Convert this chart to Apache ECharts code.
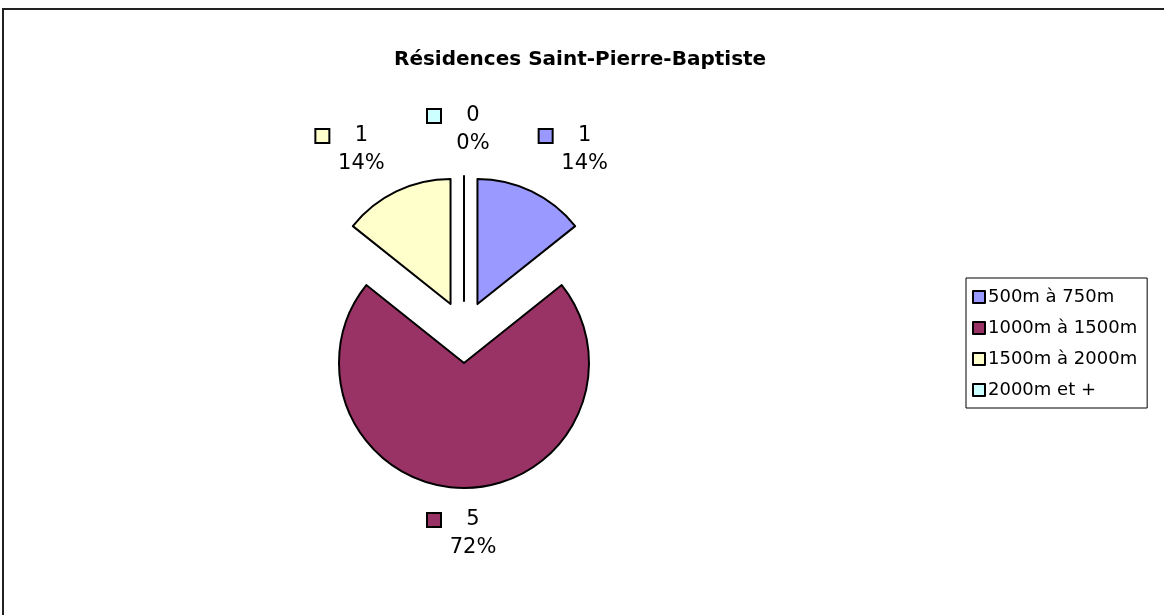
<!DOCTYPE html>
<html>
<head>
<meta charset="utf-8">
<script src="https://cdn.jsdelivr.net/npm/echarts@6/dist/echarts.min.js"></script>
<style>
    html, body { margin: 0; padding: 0; background: #fff; }
    #chart { width: 1164px; height: 615px; }
</style>
</head>
<body>
<div id="chart"></div>
<script>
// data
const chartTitle = 'Résidences Saint-Pierre-Baptiste';
const categories = ['500m à 750m', '1000m à 1500m', '1500m à 2000m', '2000m et +'];
const counts = [1, 5, 1, 0];
const sliceColors = ['#9999FF', '#993366', '#FFFFCC', '#CCFFFF'];

const FONT = '"DejaVu Sans", Arial, sans-serif';
const pieCenter = [464, 332];
const pieRadius = 125;

const total = counts.reduce((a, b) => a + b, 0);

// mid angle of each slice, clockwise from 12 o'clock
function midAngle(idx) {
    let before = 0;
    for (let i = 0; i < idx; i++) before += counts[i];
    return (before + counts[idx] / 2) / total * Math.PI * 2;
}

let rich = {
    gap: { width: 6 },
    pad: { width: 18 },
    val: { width: 54, align: 'center', fontSize: 21, lineHeight: 28, fontFamily: FONT, color: '#000' },
    pct: { width: 54, align: 'center', fontSize: 21, lineHeight: 28, fontFamily: FONT, color: '#000' }
};
sliceColors.forEach((c, i) => {
    rich['sq' + i] = { width: 12, height: 12, backgroundColor: c, borderColor: '#000', borderWidth: 2, align: 'left' };
});

const myChart = echarts.init(document.getElementById('chart'));

myChart.setOption({
    backgroundColor: '#fff',
    animation: false,
    title: {
        text: chartTitle,
        left: 389,
        top: 45,
        textStyle: { fontSize: 20, fontWeight: 'bold', fontFamily: FONT, color: '#000' }
    },
    legend: {
        orient: 'vertical',
        left: 966,
        top: 278,
        icon: 'rect',
        itemWidth: 12,
        itemHeight: 12,
        itemGap: 13,
        padding: [10, 10, 9, 6],
        borderColor: '#000',
        borderWidth: 1,
        selectedMode: false,
        data: categories,
        textStyle: { fontSize: 18, fontFamily: FONT, color: '#000', padding: [0, 0, 0, -2] },
        itemStyle: { borderColor: '#000', borderWidth: 2 }
    },
    graphic: [{
        type: 'rect',
        shape: { x: 3, y: 9, width: 1200, height: 700 },
        style: { fill: 'none', stroke: '#222', lineWidth: 2 },
        silent: true
    }],
    series: [{
        // exploded slices
        type: 'pie',
        center: pieCenter,
        radius: pieRadius,
        startAngle: 90,
        clockwise: true,
        selectedMode: 'multiple',
        selectedOffset: 31,
        emphasis: { disabled: true },
        silent: true,
        itemStyle: { borderColor: '#000', borderWidth: 2 },
        label: { show: false },
        labelLine: { show: false },
        data: categories.map((name, i) => ({
            name: name,
            value: counts[i],
            selected: true,
            itemStyle: { color: sliceColors[i] }
        }))
    }, {
        // invisible ring that only carries the data labels
        type: 'pie',
        center: pieCenter,
        radius: [194, 204],
        startAngle: 90,
        clockwise: true,
        percentPrecision: 0,
        avoidLabelOverlap: false,
        emphasis: { disabled: true },
        silent: true,
        itemStyle: { color: 'rgba(0,0,0,0)', borderWidth: 0 },
        labelLine: { show: false },
        label: {
            show: true,
            position: 'inside',
            formatter: p => '{sq' + p.dataIndex + '|}{gap|}{val|' + p.value + '}\n{pad|}{pct|' + p.percent + '%}',
            rich: rich
        },
        data: categories.map((name, i) => ({
            name: name,
            value: counts[i],
            label: { offset: [Math.round(Math.sin(midAngle(i)) * 55), 0] }
        }))
    }]
});
</script>
</body>
</html>
